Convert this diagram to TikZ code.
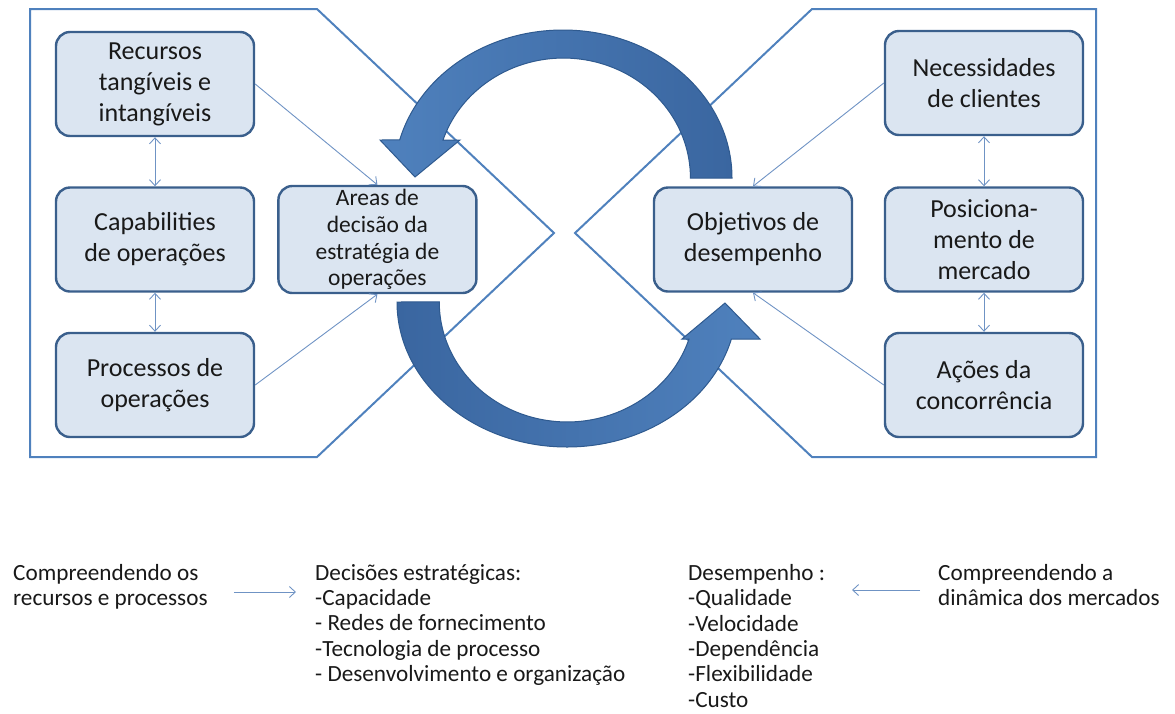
\documentclass[tikz,border=0pt]{standalone}
\usepackage{fontspec}
\setmainfont{Carlito}
\usepackage{xcolor}
\usetikzlibrary{arrows.meta, positioning, calc, shapes}

\definecolor{zoneline}{HTML}{4F81BD}
\definecolor{boxfill}{HTML}{DBE5F1}
\definecolor{boxline}{HTML}{3A5F8C}
\definecolor{arrowlight}{HTML}{4F81BD}
\definecolor{arrowdark}{HTML}{3A66A0}
\definecolor{arrowedge}{HTML}{2F5A8F}
\definecolor{linkline}{HTML}{6F93C4}

\begin{document}
\begin{tikzpicture}[
    x=1pt, y=-1pt,
    node distance=22pt,
    zone/.style={draw=zoneline, line width=2pt, line join=miter},
    block/.style={rectangle, draw=boxline, line width=2.4pt, fill=boxfill, rounded corners=14pt, minimum width=198pt, minimum height=104pt, align=center, font=\fontsize{26}{31}\selectfont, text=black!90},
    link/.style={draw=linkline, line width=0.9pt, -{Straight Barb[length=6pt, width=11pt]}},
    pair/.style={draw=linkline, line width=0.9pt, {Straight Barb[length=6pt, width=11pt]}-{Straight Barb[length=6pt, width=11pt]}},
    bigarrow/.style={draw=arrowedge, line width=1pt, line join=miter},
    note/.style={align=left, anchor=north west, inner sep=0pt, text=black!90, font=\fontsize{23.2}{25.4}\selectfont}
]
\useasboundingbox (0,0) rectangle (1175,713);

% Zones
\draw[zone] (30,9) -- (317,9) -- (554,233) -- (317,457) -- (30,457) -- cycle;
\draw[zone] (1096,9) -- (812,9) -- (575,233) -- (812,457) -- (1096,457) -- cycle;

% Operations side
\node[block] (recursos) at (155,84) {Recursos\\tangíveis e\\intangíveis};
\node[block] (capabilities) at (155,239.5) {Capabilities\\de operações};
\node[block] (processos) at (155,385) {Processos de\\operações};
\node[block, right=of capabilities, font=\fontsize{23.5}{26.7}\selectfont] (areas) {Areas de\\decisão da\\estratégia de\\operações};

% Market side
\node[block] (necessidades) at (984,83) {Necessidades\\de clientes};
\node[block] (posicionamento) at (984,239.5) {Posiciona-\\mento de\\mercado};
\node[block] (acoes) at (984,385) {Ações da\\concorrência};
\node[block] (objetivos) at (753,239.5) {Objetivos de\\desempenho};

% Links
\draw[pair] (recursos) -- (capabilities);
\draw[pair] (capabilities) -- (processos);
\draw[pair] (necessidades) -- (posicionamento);
\draw[pair] (posicionamento) -- (acoes);
\draw[link] (recursos.east) -- (areas.north);
\draw[link] (processos.east) -- (areas.south);
\draw[link] (necessidades.west) -- (objetivos.north);
\draw[link] (acoes.west) -- (objetivos.south);

% Big circular arrows
\path[bigarrow, left color=arrowlight, right color=arrowdark] (732,178)
    arc[start angle=0, end angle=-165.1, x radius=169, y radius=148]
    -- (380,140) -- (415,177) -- (460,140) -- (443,140)
    arc[start angle=-161.5, end angle=0, x radius=127, y radius=120] -- cycle;
\path[bigarrow, left color=arrowdark, right color=arrowlight] (397,302)
    arc[start angle=180, end angle=14.8, x radius=170, y radius=145]
    -- (760,339) -- (725,303) -- (682,339) -- (689,339)
    arc[start angle=18, end angle=180, x radius=128, y radius=120] -- cycle;

% Notes below
\node[note] (recursostxt) at (13,564) {Compreendendo os\\recursos e processos};
\node[note] (decisoes) at (315,564) {Decisões estratégicas:\\-Capacidade\\- Redes de fornecimento\\-Tecnologia de processo\\- Desenvolvimento e organização};
\node[note] (desempenho) at (688,564) {Desempenho :\\-Qualidade\\-Velocidade\\-Dependência\\-Flexibilidade\\-Custo};
\node[note] (mercadostxt) at (938,564) {Compreendendo a\\dinâmica dos mercados};
\coordinate (decisoesin) at (296,592);
\coordinate (desempenhoin) at (852,590);
\draw[link] (recursostxt.east |- decisoesin) ++(26,0) -- (decisoesin);
\draw[link] (mercadostxt.west |- desempenhoin) ++(-18,0) -- (desempenhoin);

\end{tikzpicture}
\end{document}
